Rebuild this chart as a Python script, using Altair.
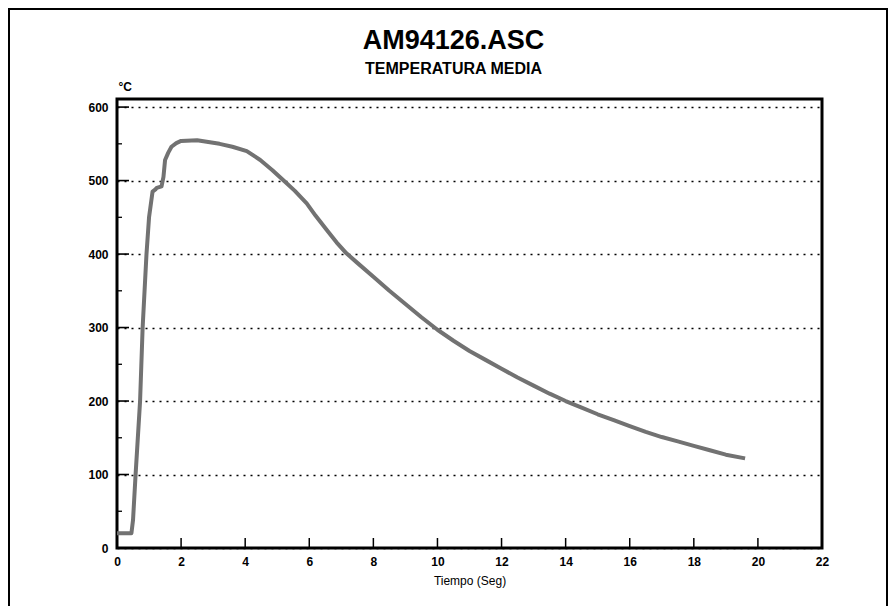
import altair as alt
import pandas as pd

# Curve (time in s, mean temperature in °C)
time_s = [0.0, 0.45, 0.5, 0.58, 0.72, 0.8, 0.92, 1.0, 1.11, 1.2, 1.24, 1.39,
          1.45, 1.5, 1.6, 1.7, 1.85, 2.0, 2.5, 3.2, 3.6, 4.05, 4.47, 4.85,
          5.2, 5.55, 5.92, 6.2, 6.54, 6.85, 7.16, 7.5, 8.0, 8.5, 9.0, 9.5,
          10.0, 10.5, 11.0, 11.5, 12.0, 12.5, 13.0, 13.5, 14.0, 14.5, 15.0,
          15.5, 16.0, 16.5, 17.0, 17.5, 18.0, 18.5, 19.0, 19.6]
temp_c = [20, 20, 38, 100, 200, 300, 400, 450, 485, 488, 490, 492,
          505, 528, 538, 546, 551, 554, 555, 550, 546, 540, 528, 514,
          500, 486, 469, 452, 433, 416, 401, 388, 369, 350, 332, 314,
          297, 282, 268, 256, 244, 232, 221, 210, 200, 191, 182,
          174, 166, 158, 151, 145, 139, 133, 127, 122]

x_ticks = [0, 2, 4, 6, 8, 10, 12, 14, 16, 18, 20, 22]
y_ticks = [0, 100, 200, 300, 400, 500, 600]
y_minor = [50, 150, 250, 350, 450, 550]
x_inner_ticks = [2, 4, 6, 8, 10, 12, 14, 16, 18, 20]
y_inner_ticks = [100, 200, 300, 400, 500, 600]

W, H = 705, 449
FONT = "Liberation Sans"

df = pd.DataFrame({"t": time_s, "T": temp_c})
xscale = alt.Scale(domain=[0, 22], nice=False, zero=False)
yscale = alt.Scale(domain=[0, 611], nice=False)

xaxis = alt.Axis(values=x_ticks, title="Tiempo (Seg)", grid=False, ticks=False,
                 domain=False, labelPadding=8, titlePadding=8,
                 labelFont=FONT, labelFontSize=12, labelFontWeight="bold",
                 labelColor="#000", titleFont=FONT, titleFontSize=12,
                 titleFontWeight="normal", titleColor="#000", labelFlush=False)
yaxis = alt.Axis(values=y_ticks, title="°C", grid=True, gridDash=[2, 5],
                 gridColor="#000", gridWidth=1.6, gridOpacity=1, ticks=False,
                 domain=False, labelPadding=9, labelFont=FONT, labelFontSize=12,
                 labelFontWeight="bold", labelColor="#000",
                 titleAngle=0, titleAlign="left", titleBaseline="bottom",
                 titleX=1, titleY=-6, titleFont=FONT, titleFontSize=12,
                 titleFontWeight="bold", titleColor="#000")

line = alt.Chart(df).mark_line(color="#727272", strokeWidth=4, strokeJoin="round").encode(
    x=alt.X("t:Q", scale=xscale, axis=xaxis),
    y=alt.Y("T:Q", scale=yscale, axis=yaxis),
)

xt = alt.Chart(pd.DataFrame({"t": x_inner_ticks})).mark_rule(color="#000", strokeWidth=1.5).encode(
    x=alt.X("t:Q", scale=xscale, axis=xaxis),
    y=alt.value(H), y2=alt.value(H - 10),
)
yt = alt.Chart(pd.DataFrame({"T": y_inner_ticks})).mark_rule(color="#000", strokeWidth=1.6).encode(
    y=alt.Y("T:Q", scale=yscale, axis=yaxis),
    x=alt.value(0), x2=alt.value(12),
)
ym = alt.Chart(pd.DataFrame({"T": y_minor})).mark_rule(color="#000", strokeWidth=1.3).encode(
    y=alt.Y("T:Q", scale=yscale, axis=yaxis),
    x=alt.value(0), x2=alt.value(5),
)
border = alt.Chart(pd.DataFrame({"a": [0]})).mark_rect(
    fillOpacity=0, stroke="#000", strokeWidth=2
).encode(
    x=alt.value(-108), x2=alt.value(770), y=alt.value(-90), y2=alt.value(508),
)

chart = alt.layer(border, line, xt, yt, ym).properties(
    width=W, height=H,
    background="white",
    autosize=alt.AutoSizeParams(type="none"),
    padding={"left": 109, "top": 91, "right": 66, "bottom": 58},
    title=alt.TitleParams(
        text="AM94126.ASC", subtitle="TEMPERATURA MEDIA",
        font=FONT, fontSize=27, fontWeight="bold", color="#000",
        subtitleFont=FONT, subtitleFontSize=16, subtitleFontWeight="bold",
        subtitleColor="#000", subtitlePadding=6,
        anchor="middle", frame="group", offset=-70, dx=-16,
    ),
).configure_view(stroke="#000", strokeWidth=3)

chart.save("out.html", embed_options={"renderer": "svg", "actions": False})
